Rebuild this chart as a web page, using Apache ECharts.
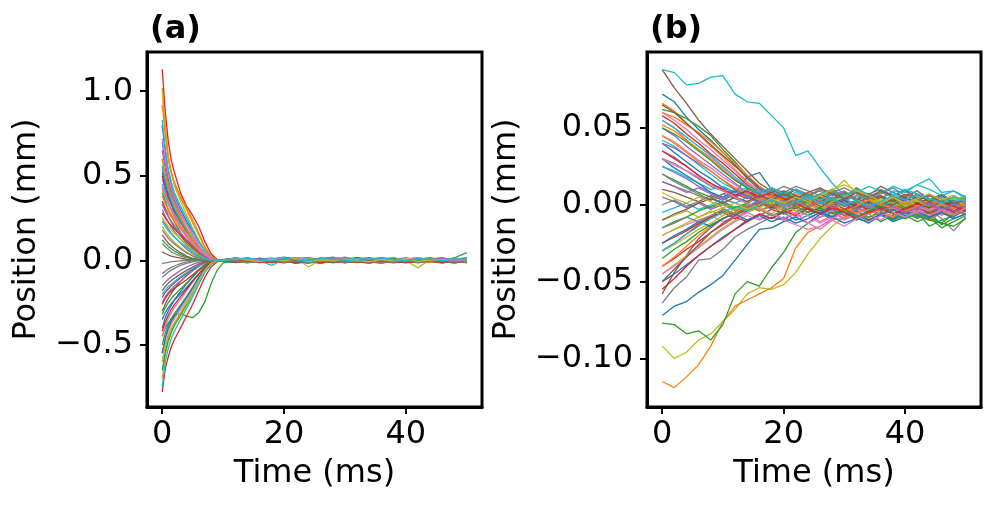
<!DOCTYPE html>
<html>
<head>
<meta charset="utf-8">
<script src="https://cdn.jsdelivr.net/npm/echarts@6.0.0/dist/echarts.min.js"></script>
<style>
  html, body { margin: 0; padding: 0; background: #fff; }
  #chart { width: 996px; height: 508px; }
</style>
</head>
<body>
<div id="chart"></div>
<script>
// time samples (ms)
const timeA = [0, 0.5, 1, 1.5, 2, 3, 4, 5, 6, 7, 8, 9, 10,
  12, 14, 16, 18, 20, 22, 24, 26, 28, 30, 32, 34, 36, 38, 40, 42, 44, 46, 48, 50]
const timeB = [0, 2, 4, 6, 8, 10, 12, 14, 16, 18, 20, 22, 24, 26, 28, 30, 32, 34, 36, 38, 40, 42, 44, 46, 48, 50]

// panel (a) trajectories, position in µm
const trajA = [
  [800,640,520,440,380,300,230,170,110,60,25,5,-5, 8,-6,12,-3,15,4,-9,6,-2,10,-5,3,14,-7,5,-1,9,-4,7,2],
  [1020,790,610,520,450,370,300,220,150,75,25,4,-3, -12,4,-8,10,-3,-15,2,-6,8,-10,1,-14,5,-4,11,-8,-2,-11,3,-6],
  [-450,-400,-370,-345,-325,-315,-330,-340,-310,-245,-140,-60,-15, -5,6,-3,9,2,-7,5,-2,12,4,-6,8,-1,6,-4,10,2,-3,15,45],
  [1130,880,700,590,520,400,320,265,200,110,40,5,-5, 10,-4,7,-12,3,9,-6,14,1,-9,6,-3,11,-7,4,16,-2,8,-5,-14],
  [550,460,390,330,280,200,140,90,50,20,5,0,-5, 4,12,-2,7,16,5,-4,9,18,3,-6,8,1,12,-3,6,14,2,9,-1],
  [-300,-260,-225,-195,-170,-125,-90,-60,-35,-15,-5,0,5, -8,3,-14,-2,-10,6,-5,-18,1,-9,-3,-15,4,-7,-12,0,-6,-16,-4,-10],
  [480,410,350,300,260,195,140,95,55,25,8,0,-3, 6,-3,10,2,-7,13,4,-2,8,-5,11,3,-8,7,-1,12,5,-4,9,1],
  [100,80,65,50,40,25,15,8,3,0,-3,2,0, -10,-3,-12,2,-8,-16,-4,-11,3,-7,-14,-2,-9,5,-6,-13,0,-8,-3,-11],
  [1000,780,600,510,440,350,270,190,120,60,20,3,0, 5,-2,9,-6,3,12,-40,4,-3,8,1,-7,10,2,-4,7,-1,11,-5,3],
  [830,660,540,460,400,320,250,180,110,55,18,2,-4, 3,9,-4,-30,6,-2,11,4,-7,8,14,2,-5,10,-3,7,13,-1,5,9],
  [-400,-340,-300,-265,-235,-185,-140,-100,-60,-30,-10,-2,3, 12,4,-3,8,18,6,-1,10,3,-6,7,15,2,-4,9,1,12,-3,6,14],
  [420,370,330,300,270,220,170,120,75,35,10,2,0, -6,-14,-2,-9,4,-11,-18,-5,-12,2,-8,-3,-15,-7,1,-10,-4,-13,-1,-8],
  [400,350,300,260,225,165,115,70,35,12,2,-2,0, 2,-5,7,-1,-9,4,-3,9,-6,1,-12,5,-2,8,-7,3,-4,10,-8,0],
  [-780,-640,-570,-510,-470,-400,-330,-260,-180,-100,-40,-10,0, -4,7,-9,3,-13,-1,8,-6,4,-10,0,-15,6,-3,9,-8,2,-12,5,-2],
  [300,260,225,195,170,125,85,50,25,8,0,-2,3, 9,1,-6,5,11,-3,7,2,-8,4,12,6,-2,9,-5,3,8,-4,11,6],
  [-220,-190,-170,-150,-135,-105,-80,-55,-30,-12,-3,0,2, -2,-11,4,-7,-15,-3,-9,2,-13,-6,-1,-10,-17,-4,-8,3,-12,-5,-9,-14],
  [-600,-500,-440,-400,-370,-320,-270,-210,-140,-70,-25,-5,0, 7,-1,11,4,-5,9,15,3,-4,10,6,-8,2,13,-2,7,-6,4,10,-3],
  [250,215,185,160,140,100,65,38,18,5,0,-3,2, -7,2,-4,-12,1,-6,5,-9,-2,-14,3,-5,-11,0,-7,4,-3,-10,2,-6],
  [-700,-560,-480,-430,-390,-330,-270,-200,-130,-60,-20,-3,0, 4,10,-2,6,-5,3,8,-1,12,5,-3,9,0,7,-4,-45,6,-2,10,3],
  [-750,-600,-520,-460,-420,-350,-285,-215,-140,-70,-25,-5,2, 1,-7,5,-3,9,-5,2,-10,6,-1,-8,4,-4,7,-12,1,-6,8,-2,-9],
  [700,580,480,410,360,280,215,150,90,40,10,0,-3, -3,6,-8,2,-5,8,-11,-2,5,-7,3,-4,9,-9,-1,6,-6,2,-10,4],
  [920,740,600,520,460,380,310,240,160,80,25,3,-2, 8,-4,3,12,-6,1,-10,7,-3,11,-8,4,-2,9,-5,-12,3,-7,6,-1],
  [-500,-430,-380,-345,-315,-265,-215,-160,-105,-55,-20,-4,0, -9,2,-6,-14,-3,-10,4,-7,-1,-12,-5,2,-8,-15,-3,-9,1,-6,-11,-4],
  [-260,-225,-200,-180,-165,-140,-115,-85,-55,-25,-8,0,3, 5,-8,1,-5,9,-2,-12,4,-6,2,-9,7,-3,-11,5,-1,-7,3,-13,2],
  [650,540,450,390,340,260,190,130,75,30,8,0,-2, 3,11,6,-2,8,14,4,-5,10,2,-3,7,13,1,-4,6,11,-2,5,9],
  [150,125,100,85,70,45,25,12,4,0,-2,2,0, -12,-4,-9,1,-14,-7,-2,-11,-5,-16,-3,-8,0,-12,-6,-1,-10,-15,-4,-8],
  [-450,-390,-345,-310,-280,-230,-180,-130,-80,-38,-12,-2,2, 11,3,-4,8,-1,6,12,-3,4,9,-6,2,7,-2,10,4,-5,8,1,6],
  [-100,-85,-70,-58,-48,-30,-18,-9,-3,0,2,-2,0, 0,-9,-3,-13,-6,2,-10,-4,-15,-7,-1,-11,-5,-2,-12,-8,-3,-14,-6,-10],
  [200,170,145,125,105,75,48,28,12,3,-1,2,0, 6,-2,13,4,-4,9,1,-7,5,12,-1,8,3,-5,14,2,-3,7,-6,11],
  [450,390,340,300,265,205,150,100,60,25,6,0,-2, -4,5,-2,8,1,-6,9,3,-3,6,-8,2,10,-1,4,-5,7,0,-4,5],
  [-350,-310,-280,-255,-235,-200,-160,-120,-80,-40,-12,-2,2, 14,6,1,9,-2,5,11,-4,7,2,16,4,-3,8,12,1,-2,9,4,13],
  [350,310,280,255,230,185,140,95,55,22,5,0,2, -10,-1,-7,-15,-4,-9,0,-13,-6,-2,-11,-17,-5,-8,-1,-12,-7,-3,-14,-9],
  [-650,-540,-470,-420,-380,-320,-255,-185,-115,-55,-18,-3,0, 2,9,-4,3,-8,6,-1,10,-5,4,-3,-10,1,8,-6,3,-9,5,-2,7],
  [500,430,370,330,290,230,170,115,65,28,6,-1,0, -6,3,-11,-2,5,-8,-15,1,-5,-12,4,-3,-9,0,-14,-4,2,-7,-1,-11],
  [-150,-130,-112,-98,-85,-60,-40,-24,-12,-4,0,2,-1, 7,13,3,-3,10,5,-1,12,6,18,2,-4,8,3,11,-2,6,15,1,8],
  [50,40,32,25,20,12,6,2,0,-2,1,0,2, -5,-13,-1,-9,-4,-17,-7,-3,-11,-1,-8,-14,-4,-10,-2,-13,-6,-9,-15,-5],
  [-550,-470,-415,-375,-345,-290,-235,-175,-110,-50,-15,-2,0, 3,-5,6,12,-2,8,1,-6,9,15,-1,5,-4,10,2,-3,7,12,-2,4],
  [-20,-15,-12,-8,-6,-3,-1,0,2,0,-1,1,0, -8,-15,-4,-10,-1,-12,-6,-18,-3,-9,-13,-2,-7,-11,-5,-16,-1,-8,-12,-4],
  [600,500,420,360,315,240,175,115,65,25,5,0,-2, 10,2,-5,7,15,-2,4,11,-1,6,-7,3,9,17,-3,5,1,-4,8,2],
  [-200,-175,-155,-140,-125,-98,-72,-48,-27,-10,-2,0,3, 2,8,-3,11,5,-6,3,9,-1,14,7,-2,4,10,-5,6,12,1,-3,7],
  [520,450,390,340,300,235,175,120,70,32,8,-1,2, -3,7,-5,2,10,-1,6,-8,3,11,-4,5,-2,8,1,-6,9,3,-3,6],
  [380,335,300,270,245,200,160,120,80,40,12,2,-2, 5,-7,3,-2,8,-10,1,6,-5,3,-9,7,-1,4,-6,10,-3,2,-8,5],
  [-320,-280,-250,-225,-205,-170,-135,-95,-60,-28,-8,0,3, 7,-2,9,3,-5,6,1,11,-3,5,8,-1,4,-7,6,2,9,-4,3,8],
  [280,250,225,205,185,150,115,80,45,18,4,0,-3, -9,1,-5,-12,3,-7,-2,-14,2,-8,-4,-11,0,-6,-15,-3,-9,1,-5,-12],
  [-250,-215,-190,-170,-152,-122,-92,-62,-35,-14,-3,1,-2, 6,12,2,9,-3,7,14,4,-2,10,3,8,-4,11,5,1,13,-2,7,4],
  [350,300,260,225,195,145,100,62,32,12,2,-2,0, -6,3,-10,-1,-7,5,-13,-4,2,-9,-3,-16,0,-8,-5,3,-11,-2,-7,-14],
  [430,375,330,290,255,200,150,105,65,30,9,1,-2, 10,4,-2,8,13,1,7,-3,10,5,-6,9,2,14,-1,6,-4,11,3,-2],
  [-80,-65,-52,-42,-34,-20,-10,-4,0,2,-1,1,-2, -11,-5,-14,-2,-9,-16,-6,-1,-12,-7,-3,-10,-17,-5,-8,-2,-13,-6,-10,-4],
  [250,225,200,180,160,125,92,60,32,12,2,-1,1, 3,9,-4,6,-8,2,11,-2,5,-6,8,1,-3,12,-5,4,9,-1,6,-7],
  [560,480,410,355,310,240,180,125,78,38,12,2,-1, 12,5,-3,9,2,15,6,-4,11,3,8,-2,13,7,-5,10,4,-1,12,6],
  [-550,-460,-400,-360,-330,-275,-220,-160,-100,-48,-15,-3,1, 4,-6,9,-2,6,-9,3,-4,10,1,-7,5,-1,8,-10,2,-5,7,0,-8],
  [600,510,435,375,330,255,190,130,78,35,9,0,-2, -5,4,-11,2,-7,-1,-12,5,-4,-9,3,-14,-2,6,-8,-3,-13,1,-6,-10],
  [120,100,82,68,55,35,20,9,3,0,-2,1,0, 1,-8,4,-3,7,-6,2,-11,5,-1,-8,3,-4,9,-7,0,-5,6,-9,2],
  [-420,-365,-325,-290,-262,-215,-170,-125,-82,-42,-14,-2,2, -7,2,-12,-4,6,-9,-1,-15,3,-6,-11,1,-3,-10,4,-8,-2,-13,0,-5],
  [330,290,258,230,205,162,122,85,50,22,5,0,-1, 11,3,8,-4,12,6,-1,9,15,2,-5,7,12,4,-2,10,6,13,-3,8],
  [-180,-155,-135,-120,-106,-82,-60,-40,-22,-8,-1,1,-2, -14,-6,-1,-11,-5,-17,-8,0,-12,-4,-9,-15,-3,-10,-6,-13,-1,-8,-16,-5],
  [720,600,500,425,370,285,215,150,90,40,10,0,-2, 3,10,-2,7,-5,12,1,-3,8,4,-7,11,2,-4,9,14,-1,5,-6,8],
  [180,155,130,112,96,68,44,25,11,3,-1,1,0, -4,-12,-6,1,-10,-3,-15,-7,-1,-11,-5,-2,-13,-8,-4,-14,-6,-1,-9,-12],
  [-600,-510,-450,-405,-370,-310,-250,-185,-120,-58,-18,-3,1, 8,1,-6,4,-2,9,-8,3,-4,7,0,-10,5,-3,8,-6,2,-1,10,-4],
  [230,200,176,155,137,105,76,50,28,10,2,-1,1, 6,13,2,-5,9,4,-3,11,7,0,-6,8,14,3,-2,10,5,-4,9,2]
]

// panel (b) trajectories, position in µm
const trajB = [
  [72,67,57,49,42,34,26,17,10,6,8,4,7,2,5,1,-2,3,-4,0,-6,-2,-8,-3,-5,-1],
  [66,61,53,46,38,31,23,15,9,4,6,2,-3,4,8,3,6,1,5,-2,3,7,2,-4,1,4],
  [62,60,56,51,45,36,28,19,11,7,3,5,-1,2,-4,3,-2,-6,-1,-5,-9,-4,-8,-12,-6,-3],
  [58,53,46,40,33,27,20,13,8,9,5,10,6,2,7,3,8,4,1,6,2,-3,1,-2,-6,-2],
  [50,45,38,32,26,20,14,8,4,1,-3,2,-2,3,-1,4,0,-4,2,-3,1,5,0,4,-1,2],
  [88,76,66,55,46,38,30,22,14,9,6,10,7,4,9,5,11,6,12,8,5,9,3,7,2,5],
  [55,50,42,36,31,24,17,11,6,2,-2,-6,-3,-8,-5,-1,-4,2,-2,1,-3,0,-5,-2,1,-3],
  [-64,-54,-47,-36,-35,-29,-21,-16,-12,-8,-10,-5,-1,4,9,6,3,7,10,6,9,3,6,1,-4,-2],
  [-92,-100,-96,-88,-84,-76,-68,-58,-54,-55,-52,-44,-32,-22,-14,-8,-4,-2,1,-3,2,-1,4,0,3,6],
  [88,86,78,79,83,84,72,67,66,58,50,32,35,24,14,6,3,7,4,9,8,13,17,8,9,5],
  [40,34,28,22,17,11,8,18,21,10,6,2,5,0,-3,-7,-4,-10,-6,-11,-8,-5,-9,-4,-7,-2],
  [-115,-119,-112,-104,-92,-76,-66,-62,-58,-54,-48,-28,-18,-14,-10,-8,-5,-9,-3,-6,-1,-4,2,-2,-5,-1],
  [-77,-78,-84,-82,-88,-78,-58,-50,-53,-41,-31,-18,-12,-8,-5,-9,-6,-2,-7,-3,-8,-5,-14,-10,-7,-4],
  [-30,-25,-19,-13,-8,-5,-9,-4,-1,3,-2,2,6,1,4,8,3,7,2,-1,3,-2,1,-4,0,2],
  [35,31,25,19,14,9,5,8,3,6,2,-1,4,0,-3,2,-2,-5,-1,-6,-3,1,-2,-6,-3,0],
  [-58,-44,-33,-22,-15,-9,-5,-2,2,-1,4,1,6,3,8,4,9,5,2,6,10,4,7,3,6,2],
  [45,41,35,29,24,18,13,7,3,-1,-4,-8,-5,-11,-7,-3,-6,-1,-4,-8,-3,-6,-2,-7,-4,-6],
  [30,27,22,17,12,9,5,10,7,11,8,12,9,6,10,5,8,3,7,11,6,9,4,0,-3,-1],
  [-45,-39,-33,-27,-21,-15,-10,-5,-2,2,-1,3,8,4,9,16,7,3,6,1,-2,2,-3,1,4,0],
  [42,38,32,26,20,14,10,6,9,5,8,4,1,5,2,6,10,7,4,8,3,6,2,5,1,3],
  [-72,-66,-63,-57,-52,-46,-36,-26,-16,-15,-11,-8,-12,-6,-9,-4,-8,-12,-7,-10,-5,-8,-3,-6,-2,-4],
  [60,57,52,47,41,34,27,19,12,7,3,7,2,5,-1,3,-3,1,-2,2,-1,-4,0,3,-2,1],
  [20,16,12,8,5,1,-3,0,-4,-1,-6,-2,-7,-3,-8,-5,-10,-6,-11,-7,-4,-9,-5,-13,-9,-6],
  [-40,-35,-29,-24,-18,-13,-8,-11,-7,-3,-6,-2,3,-1,2,-3,1,5,0,4,-1,3,-2,2,-3,0],
  [25,21,17,12,8,4,1,-2,2,-3,1,-4,-1,-5,-2,2,-1,3,-2,1,-3,2,-1,-4,0,-2],
  [10,8,5,2,6,3,7,4,8,5,9,6,2,7,3,8,4,1,5,2,7,3,6,2,-1,1],
  [-20,-16,-13,-10,-7,-11,-8,-5,-9,-6,-10,-13,-16,-14,-9,-5,-2,-6,-3,1,-4,-1,2,-2,0,-3],
  [15,12,9,6,3,7,4,1,5,2,6,3,-1,2,-2,1,-3,0,-4,-1,-5,-8,-3,-9,-17,-8],
  [-10,-7,-4,-8,-5,-2,-6,-3,1,-2,2,-1,4,0,-3,1,-2,3,-1,2,-2,1,-3,0,4,1],
  [-5,-2,1,-3,0,4,1,5,2,-1,3,0,4,1,5,2,6,3,-1,2,5,1,4,0,3,-2],
  [-50,-45,-39,-33,-27,-21,-16,-10,-6,-9,-5,-10,-7,-3,-8,-12,-9,-11,-6,-9,-4,-7,-10,-5,-8,-3],
  [52,48,42,36,30,23,16,11,6,9,5,2,-2,3,-1,-5,-2,-6,-3,0,-4,-1,-5,-2,1,-3],
  [-35,-29,-24,-18,-13,-9,-5,-1,-4,0,-3,1,-2,-6,-3,-7,-4,-8,-5,-10,-7,-11,-8,-15,-11,-7],
  [-25,-21,-17,-12,-8,-4,-7,-3,1,-2,2,-1,-5,-2,3,0,-3,1,-2,-6,-2,0,-4,-1,-5,-2],
  [5,2,-2,1,-3,0,-4,-1,3,0,-3,1,-2,-6,-3,-7,-2,-5,-1,-4,0,-3,1,-2,-4,0],
  [65,60,53,46,39,32,25,18,11,6,2,5,1,4,0,3,-1,2,-2,1,-3,0,2,-1,3,0],
  [-45,-40,-34,-28,-22,-16,-11,-7,-10,-6,-9,-5,-12,-8,-4,-9,-6,-11,-7,-3,-8,-5,-2,-6,-3,-7],
  [0,3,-1,2,-2,1,5,2,6,3,7,10,6,9,4,7,3,-1,2,-2,1,-3,0,-4,-1,-6],
  [-30,-26,-21,-16,-12,-7,-3,1,-2,3,-1,4,1,5,2,-1,3,0,4,1,-2,2,-1,3,0,2],
  [25,22,18,14,10,12,8,11,7,9,5,8,4,7,10,6,9,5,8,12,9,13,10,6,9,4],
  [30,24,19,14,8,5,9,6,2,-1,3,-2,1,-4,-1,3,-2,2,-3,0,4,1,-2,3,0,-1],
  [-40,-34,-27,-20,-14,-9,-5,-1,-4,0,-3,-7,-2,-5,-8,-3,-6,-1,-4,-8,-3,-6,-10,-4,-7,-3],
  [50,46,41,35,29,22,16,11,7,3,8,4,1,-2,3,-1,2,-4,0,3,-2,1,-5,-1,2,-2],
  [-55,-48,-40,-33,-27,-22,-16,-11,-6,-9,-4,-7,-2,-6,-1,-4,0,-3,-7,-2,-5,-1,-6,-2,-4,0],
  [40,37,32,27,22,16,10,5,9,4,7,2,6,1,4,-1,3,-2,2,-2,1,-3,0,-4,-1,2],
  [-50,-42,-34,-26,-18,-12,-7,-2,2,-1,3,6,2,5,1,4,8,3,6,2,5,1,4,-1,2,0],
  [60,55,49,42,36,29,22,14,9,4,0,-4,-7,-12,-8,-10,-6,-3,-7,-2,-5,-1,-4,0,-3,1],
  [20,15,11,7,3,7,10,6,11,8,12,9,5,10,6,9,4,7,2,5,1,4,0,-3,1,-2],
  [-20,-16,-12,-8,-4,-7,-3,1,-2,-6,-1,-4,0,-3,2,5,8,4,1,5,-1,3,-2,1,4,-1],
  [55,50,44,38,32,25,18,12,8,11,7,10,6,3,7,4,8,12,9,6,10,7,3,6,2,4],
  [-25,-20,-16,-11,-14,-9,-6,-10,-7,-11,-8,-12,-9,-5,-8,-3,-7,-10,-6,-3,-7,-4,-8,-5,-9,-6],
  [45,40,34,28,22,16,11,7,3,6,2,-2,1,-3,0,-4,-1,3,0,-2,2,-1,3,0,-2,1],
  [-15,-11,-8,-4,-1,2,-2,1,-3,-7,-4,-1,-5,-2,-6,-3,-8,-4,-1,-5,-9,-6,-10,-12,-14,-9],
  [35,30,25,19,14,10,6,9,5,8,4,1,-3,-6,-2,-5,-9,-5,-2,-6,-3,1,-2,2,-1,-4],
  [15,12,8,11,7,4,8,5,1,4,0,3,-1,2,-2,1,-3,0,-4,-1,-5,-2,1,-3,0,-2],
  [-10,-6,-3,1,4,1,5,2,6,3,7,4,8,11,7,4,8,5,9,6,3,7,2,6,1,3],
  [30,26,22,18,13,9,5,1,-3,-6,-9,-5,-12,-16,-10,-14,-9,-6,-10,-5,-8,-4,-7,-3,-6,-2],
  [-15,-12,-8,-11,-7,-3,-6,-2,2,-1,3,0,6,10,8,11,7,4,8,5,1,4,-1,2,-4,-6],
  [8,4,1,5,2,-2,1,-3,0,4,1,5,2,6,10,13,9,6,2,5,1,4,7,3,6,2],
  [-30,-25,-19,-14,-9,-5,-1,-4,0,3,-1,2,5,1,4,0,3,-1,2,6,3,7,4,1,5,2]
]

// tick labels
const xTicks = [0, 20, 40]
const yTicksA = [-0.5, 0, 0.5, 1.0]
const yTicksB = [-0.10, -0.05, 0, 0.05]

const tab10 = ['#1f77b4', '#ff7f0e', '#2ca02c', '#d62728', '#9467bd',
  '#8c564b', '#e377c2', '#7f7f7f', '#bcbd22', '#17becf']

const FONT = 'DejaVu Sans'
const FS = 32

const fmt = (digits) => (v) => (v < 0 ? '\u2212' : '') + Math.abs(v).toFixed(digits)

const makeX = (gridIndex) => ({
  type: 'value',
  gridIndex,
  min: -2.5,
  max: 52.5,
  name: 'Time (ms)',
  nameLocation: 'middle',
  nameGap: 51,
  nameTextStyle: { fontFamily: FONT, fontSize: FS, color: '#000' },
  splitLine: { show: false },
  axisLine: { show: true, onZero: false, lineStyle: { color: '#000', width: 3 } },
  axisTick: { show: true, length: 7, customValues: xTicks, lineStyle: { color: '#000', width: 2 } },
  axisLabel: { customValues: xTicks, margin: 12, fontFamily: FONT, fontSize: FS, color: '#000' },
})

const makeY = (gridIndex, min, max, ticks, digits, gap) => ({
  type: 'value',
  gridIndex,
  min,
  max,
  name: 'Position (mm)',
  nameLocation: 'middle',
  nameGap: gap,
  nameTextStyle: { fontFamily: FONT, fontSize: FS, color: '#000' },
  splitLine: { show: false },
  axisLine: { show: true, onZero: false, lineStyle: { color: '#000', width: 3 } },
  axisTick: { show: true, length: 7, customValues: ticks, lineStyle: { color: '#000', width: 2 } },
  axisLabel: { customValues: ticks, margin: 14, formatter: fmt(digits), fontFamily: FONT, fontSize: FS, color: '#000' },
})

const series = []
trajA.forEach((ys, i) => {
  series.push({
    type: 'line', xAxisIndex: 0, yAxisIndex: 0, silent: true, showSymbol: false,
    data: ys.map((v, k) => [timeA[k], v / 1000]),
    lineStyle: { width: 1.3, color: tab10[i % 10] },
  })
})
trajB.forEach((ys, i) => {
  series.push({
    type: 'line', xAxisIndex: 1, yAxisIndex: 1, silent: true, showSymbol: false,
    data: ys.map((v, k) => [timeB[k], v / 1000]),
    lineStyle: { width: 1.3, color: tab10[i % 10] },
  })
})

const chart = echarts.init(document.getElementById('chart'), null, { renderer: 'canvas' })
chart.setOption({
  animation: false,
  backgroundColor: '#fff',
  title: [
    { text: '(a)', left: 145, top: 9, textStyle: { fontFamily: FONT, fontSize: FS, fontWeight: 'bold', color: '#000' } },
    { text: '(b)', left: 645, top: 9, textStyle: { fontFamily: FONT, fontSize: FS, fontWeight: 'bold', color: '#000' } },
  ],
  grid: [
    { left: 147, top: 52, width: 335, height: 355, show: true, borderColor: '#000', borderWidth: 3, backgroundColor: 'transparent' },
    { left: 647, top: 52, width: 334, height: 355, show: true, borderColor: '#000', borderWidth: 3, backgroundColor: 'transparent' },
  ],
  xAxis: [makeX(0), makeX(1)],
  yAxis: [
    makeY(0, -0.868, 1.232, yTicksA, 1, 104),
    makeY(1, -0.1316, 0.0994, yTicksB, 2, 124),
  ],
  series,
})
</script>
</body>
</html>
